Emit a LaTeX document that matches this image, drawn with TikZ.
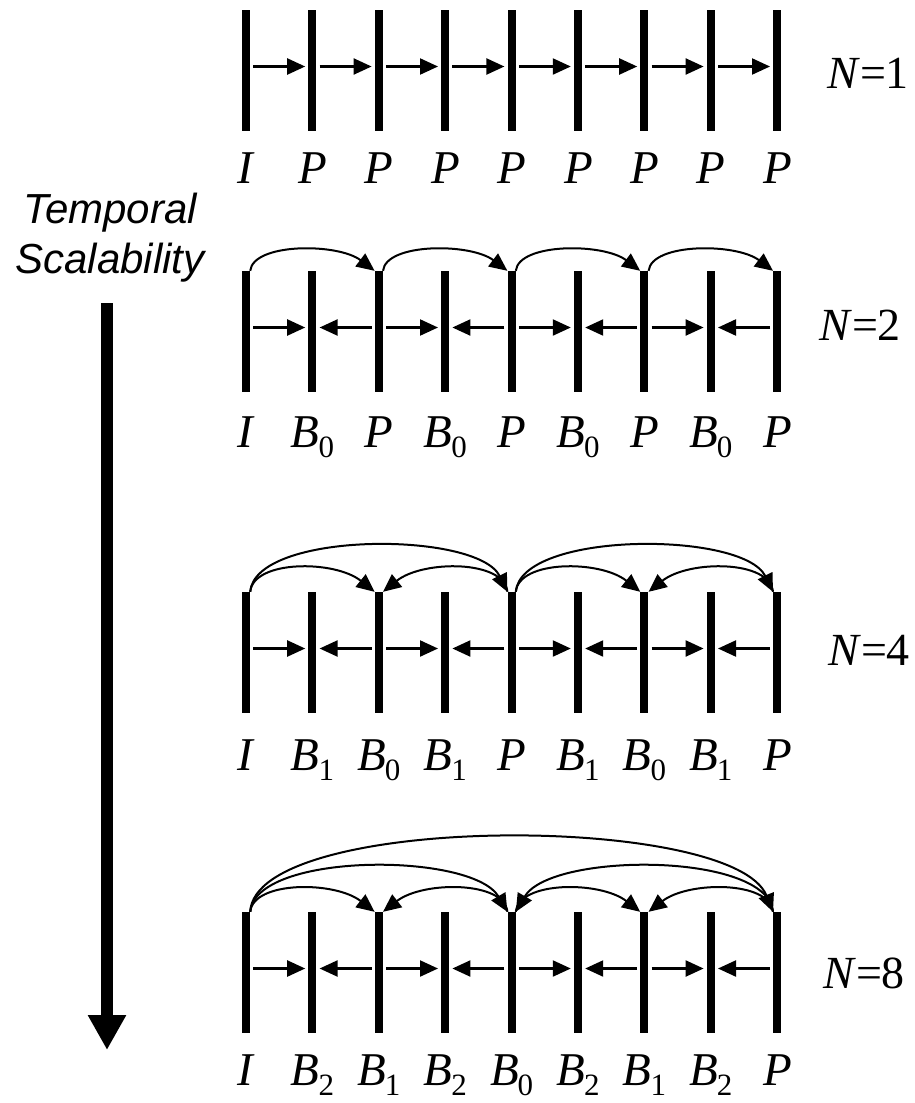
\documentclass[tikz,border=0pt]{standalone}
\usepackage{fontspec}
\setmainfont{Liberation Serif}
\newfontfamily\capfont{Liberation Sans}
\usetikzlibrary{arrows.meta}
% frame type letter with its level as subscript
\newcommand{\fr}[2]{\textit{#1}\kern-1pt\raisebox{-10pt}{\fontsize{31}{31}\selectfont #2}}

\tikzset{
	vbar/.style={fill=black, inner sep=0pt, minimum width=8pt, minimum height=121pt},
	nbarrow/.style={line width=2.2pt, -{Triangle[length=18pt,width=16pt]}, shorten <=3pt, shorten >=3pt},
	refarc/.style={line width=2pt, -{Triangle[length=18pt,width=16pt]}},
	flabel/.style={anchor=base, inner sep=0pt, font=\fontsize{47}{47}\selectfont},
	nlabel/.style={anchor=base west, inner sep=0pt, font=\fontsize{46}{46}\selectfont},
	axlabel/.style={anchor=base, inner sep=0pt, font=\capfont\itshape\fontsize{42}{42}\selectfont},
}

\begin{document}
\begin{tikzpicture}[x=1pt, y=-1pt]
	\useasboundingbox (0,0) rectangle (914,1103);
	% frames of the four rows
	\foreach \r/\y in {1/70.5, 2/331.5, 3/652.5, 4/972.5}
		\foreach \i in {1,...,9}
			\node[vbar] (r\r b\i) at ({246+66.4*(\i-1)}, \y) {};
	% frame labels
	\foreach \i/\t/\s in {1/I/{}, 2/P/{}, 3/P/{}, 4/P/{}, 5/P/{}, 6/P/{}, 7/P/{}, 8/P/{}, 9/P/{}}
		\node[flabel] (r1l\i) at ([yshift=-52pt]r1b\i.south) {\fr{\t}{\s}};
	\foreach \i/\t/\s in {1/I/{}, 2/B/0, 3/P/{}, 4/B/0, 5/P/{}, 6/B/0, 7/P/{}, 8/B/0, 9/P/{}}
		\node[flabel] (r2l\i) at ([yshift=-55pt]r2b\i.south) {\fr{\t}{\s}};
	\foreach \i/\t/\s in {1/I/{}, 2/B/1, 3/B/0, 4/B/1, 5/P/{}, 6/B/1, 7/B/0, 8/B/1, 9/P/{}}
		\node[flabel] (r3l\i) at ([yshift=-57pt]r3b\i.south) {\fr{\t}{\s}};
	\foreach \i/\t/\s in {1/I/{}, 2/B/2, 3/B/1, 4/B/2, 5/B/0, 6/B/2, 7/B/1, 8/B/2, 9/P/{}}
		\node[flabel] (r4l\i) at ([yshift=-52pt]r4b\i.south) {\fr{\t}{\s}};
	% group sizes
	\node[nlabel] (n1) at (827,88) {\textit{N}=1};
	\node[nlabel] (n2) at (819,340) {\textit{N}=2};
	\node[nlabel] (n4) at (828,665) {\textit{N}=4};
	\node[nlabel] (n8) at (823,988) {\textit{N}=8};

	% neighbour references
	\foreach \i in {1,...,8} {
		\pgfmathtruncatemacro\j{\i+1}
		\draw[nbarrow] ([yshift=4pt]r1b\i.east) -- ([yshift=4pt]r1b\j.west);
	}
	\foreach \r in {2,3,4}
		\foreach \i in {1,3,5,7} {
			\pgfmathtruncatemacro\j{\i+1}
			\pgfmathtruncatemacro\k{\i+2}
			\draw[nbarrow] ([yshift=4pt]r\r b\i.east) -- ([yshift=4pt]r\r b\j.west);
			\draw[nbarrow] ([yshift=4pt]r\r b\k.west) -- ([yshift=4pt]r\r b\j.east);
		}

	% N=2: P frames from P frames
	\foreach \a/\b in {1/3, 3/5, 5/7, 7/9}
		\draw[refarc] (r2b\a.north east) .. controls +(3,-28) and +(-37,-28) .. (r2b\b.north west);
	% N=4
	\foreach \a/\b in {1/3, 5/7}
		\draw[refarc] (r3b\a.north east) .. controls +(3,-32) and +(-40,-32) .. (r3b\b.north west);
	\foreach \a/\b in {5/3, 9/7}
		\draw[refarc] (r3b\a.north west) .. controls +(-3,-32) and +(40,-32) .. (r3b\b.north east);
	\foreach \a/\b in {1/5, 5/9}
		\draw[refarc] (r3b\a.north east) .. controls +(5,-61) and +(-30,-61) .. (r3b\b.north west);
	% N=8
	\foreach \a/\b in {1/3, 5/7}
		\draw[refarc] (r4b\a.north east) .. controls +(3,-31) and +(-40,-31) .. (r4b\b.north west);
	\foreach \a/\b in {5/3, 9/7}
		\draw[refarc] (r4b\a.north west) .. controls +(-3,-31) and +(40,-31) .. (r4b\b.north east);
	\draw[refarc] (r4b1.north east) .. controls +(5,-60) and +(-35,-60) .. (r4b5.north west);
	\draw[refarc] (r4b9.north west) .. controls +(-5,-60) and +(35,-60) .. (r4b5.north east);
	\draw[refarc] (r4b1.north east) .. controls +(5,-99) and +(-40,-99) .. (r4b9.north west);

	% scalability axis
	\node[axlabel] (temporal) at (110,223) {Temporal};
	\node[axlabel] (scal) at (110,273) {Scalability};
	\coordinate (axtop) at (107,303);
	\coordinate (axend) at (107,1050);
	\draw[line width=12pt, -{Triangle[length=35pt,width=36pt]}] (axtop) -- (axend);
\end{tikzpicture}
\end{document}
